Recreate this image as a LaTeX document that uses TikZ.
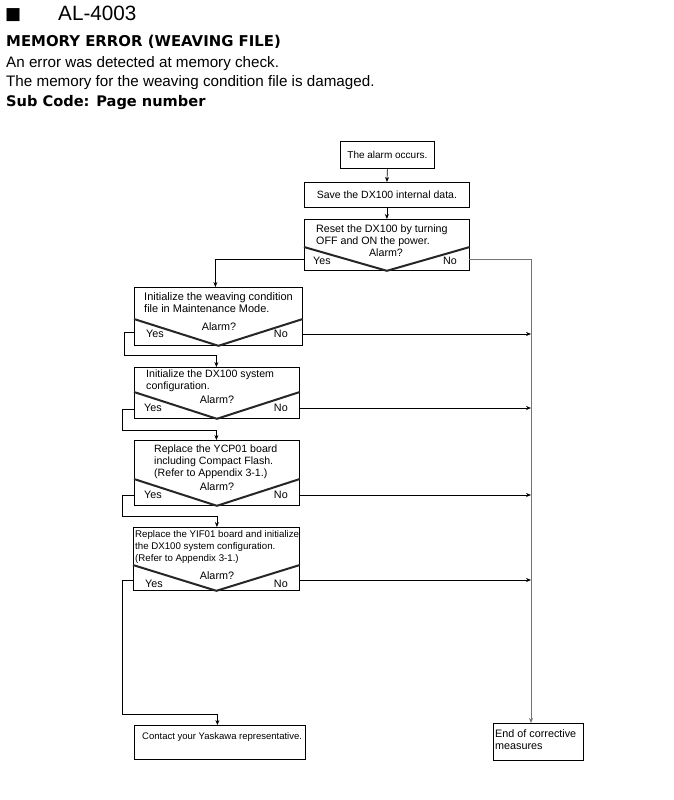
\documentclass[tikz,border=0pt]{standalone}
\usepackage{fontspec}
\setmainfont{Liberation Sans}
\newfontfamily\hdfont{DejaVu Sans}
\usetikzlibrary{arrows.meta}
\newcommand{\fsz}[1]{\fontsize{#1}{#1}\selectfont}
\begin{document}
\begin{tikzpicture}[x=1pt,y=-1pt,
  txt/.style={inner sep=0pt, anchor=base west},
  ctxt/.style={inner sep=0pt, anchor=base},
  rtxt/.style={inner sep=0pt, anchor=base east},
  boxs/.style={draw=black, line width=0.8pt, inner sep=0pt, anchor=north west},
  arr/.style={draw=black, line width=0.7pt, -{Stealth[length=5pt,width=4pt]}},
  plain/.style={draw=black, line width=0.7pt},
  gline/.style={draw=black!55, line width=0.9pt},
  garr/.style={draw=black!55, line width=0.9pt, -{Stealth[length=5pt,width=4pt]}},
  vline/.style={draw=black!85, line width=2pt, line join=miter}
]
\useasboundingbox (0,0) rectangle (674,800);
\fill[white] (0,0) rectangle (674,800);

% ---------- header ----------
\node[txt, font=\hdfont\fsz{17}] (sq) at (5,20) {■};
\node[txt, font=\fsz{20.7}] (code) at (58,21) {AL-4003};
\node[txt, font=\hdfont\bfseries\fsz{14.9}] (ttl) at (6,47) {MEMORY ERROR (WEAVING FILE)};
\node[txt, font=\fsz{15.2}] (l1) at (6,67) {An error was detected at memory check.};
\node[txt, font=\fsz{15.2}] (l2) at (6,86) {The memory for the weaving condition file is damaged.};
\node[txt, font=\hdfont\bfseries\fsz{14.6}] (l3) at (6,106) {Sub Code: Page number};

% ---------- box A ----------
\node[boxs, minimum width=94pt, minimum height=27pt, font=\fsz{10}] (A) at (340,141) {The alarm occurs.};
% ---------- box B ----------
\node[boxs, minimum width=165pt, minimum height=25pt, font=\fsz{10.5}] (B) at (304,182) {Save the DX100 internal data.};
% ---------- box C ----------
\node[boxs, minimum width=165pt, minimum height=51pt] (C) at (304,219) {};
\node[txt, font=\fsz{10.7}] (C1) at (316,232) {Reset the DX100 by turning};
\node[txt, font=\fsz{10.7}] (C2) at (316,244) {OFF and ON the power.};
\draw[vline] (C.west |- 0,247) -- (C.south) -- (C.east |- 0,247);
\node[ctxt, font=\fsz{10.7}] (Ca) at (386,256) {Alarm?};
\node[txt, font=\fsz{10.7}] (Cy) at (313,264) {Yes};
\node[rtxt, font=\fsz{10.7}] (Cn) at (457,264) {No};

% ---------- box D ----------
\node[boxs, minimum width=168pt, minimum height=58pt] (D) at (134,287) {};
\node[txt, font=\fsz{11}] (D1) at (144,300) {Initialize the weaving condition};
\node[txt, font=\fsz{11}] (D2) at (144,312) {file in Maintenance Mode.};
\draw[vline] (D.west |- 0,319) -- (D.south) -- (D.east |- 0,319);
\node[ctxt, font=\fsz{10.8}] (Da) at (219,330) {Alarm?};
\node[txt, font=\fsz{10.8}] (Dy) at (146,337) {Yes};
\node[rtxt, font=\fsz{10.8}] (Dn) at (288,337) {No};

% ---------- box E ----------
\node[boxs, minimum width=165pt, minimum height=51pt] (E) at (134,367) {};
\node[txt, font=\fsz{10.6}] (E1) at (146,377) {Initialize the DX100 system};
\node[txt, font=\fsz{10.6}] (E2) at (146,389) {configuration.};
\draw[vline] (E.west |- 0,392) -- (E.south) -- (E.east |- 0,392);
\node[ctxt, font=\fsz{10.8}] (Ea) at (217,403) {Alarm?};
\node[txt, font=\fsz{10.8}] (Ey) at (144,411) {Yes};
\node[rtxt, font=\fsz{10.8}] (En) at (288,411) {No};

% ---------- box F ----------
\node[boxs, minimum width=165pt, minimum height=65pt] (F) at (134,440) {};
\node[txt, font=\fsz{10.6}] (F1) at (154,452) {Replace the YCP01 board};
\node[txt, font=\fsz{10.6}] (F2) at (154,464) {including Compact Flash.};
\node[txt, font=\fsz{10.6}] (F3) at (154,476) {(Refer to Appendix 3-1.)};
\draw[vline] (F.west |- 0,479) -- (F.south) -- (F.east |- 0,479);
\node[ctxt, font=\fsz{10.8}] (Fa) at (217,490) {Alarm?};
\node[txt, font=\fsz{10.8}] (Fy) at (144,498) {Yes};
\node[rtxt, font=\fsz{10.8}] (Fn) at (288,498) {No};

% ---------- box G ----------
\node[boxs, minimum width=166pt, minimum height=63pt] (G) at (133,527) {};
\node[txt, font=\fsz{9.7}] (G1) at (135,537) {Replace the YIF01 board and initialize};
\node[txt, font=\fsz{9.7}] (G2) at (135,549) {the DX100 system configuration.};
\node[txt, font=\fsz{9.7}] (G3) at (135,561) {(Refer to Appendix 3-1.)};
\draw[vline] (G.west |- 0,565) -- (G.south) -- (G.east |- 0,565);
\node[ctxt, font=\fsz{10.8}] (Ga) at (217,579) {Alarm?};
\node[txt, font=\fsz{10.8}] (Gy) at (145,587) {Yes};
\node[rtxt, font=\fsz{10.8}] (Gn) at (288,587) {No};

% ---------- end boxes ----------
\node[boxs, minimum width=171pt, minimum height=34pt] (H) at (134,725) {};
\node[txt, font=\fsz{9.5}] (H1) at (142,739) {Contact your Yaskawa representative.};
\node[boxs, minimum width=90pt, minimum height=37pt] (K) at (493,723) {};
\node[txt, font=\fsz{10.8}] (K1) at (495,737) {End of corrective};
\node[txt, font=\fsz{10.8}] (K2) at (495,749) {measures};

% ---------- connection points ----------
\coordinate (cY) at (304,259);
\coordinate (cN) at (469,259);
\coordinate (dY) at (134,332);
\coordinate (dN) at (302,334);
\coordinate (eY) at (134,409);
\coordinate (eN) at (299,408);
\coordinate (fY) at (134,495);
\coordinate (fN) at (299,495);
\coordinate (gY) at (133,580);
\coordinate (gN) at (299,580);
\coordinate (rail) at (531,0);

% ---------- connectors ----------
\draw[arr] (A.south) -- (B.north);
\draw[arr] (B.south) -- (C.north);
\draw[arr] (cY) -| ([xshift=-3pt]D.north);
\draw[garr] (cN) -| (rail |- K.north);
\draw[arr] (dN) -- (rail |- dN);
\draw[arr] (eN) -- (rail |- eN);
\draw[arr] (fN) -- (rail |- fN);
\draw[arr] (gN) -- (rail |- gN);
\draw[arr] (dY) -- (124,332) -- (124,355) -| ([xshift=-0.5pt]E.north);
\draw[arr] (eY) -- (122,409) -- (122,430) -| ([xshift=-0.5pt]F.north);
\draw[arr] (fY) -- (122,495) -- (122,516) -| ([xshift=0.5pt]G.north);
\draw[arr] (gY) -- (122,580) -- (122,714) -| ([xshift=-2.5pt]H.north);
\end{tikzpicture}
\end{document}
